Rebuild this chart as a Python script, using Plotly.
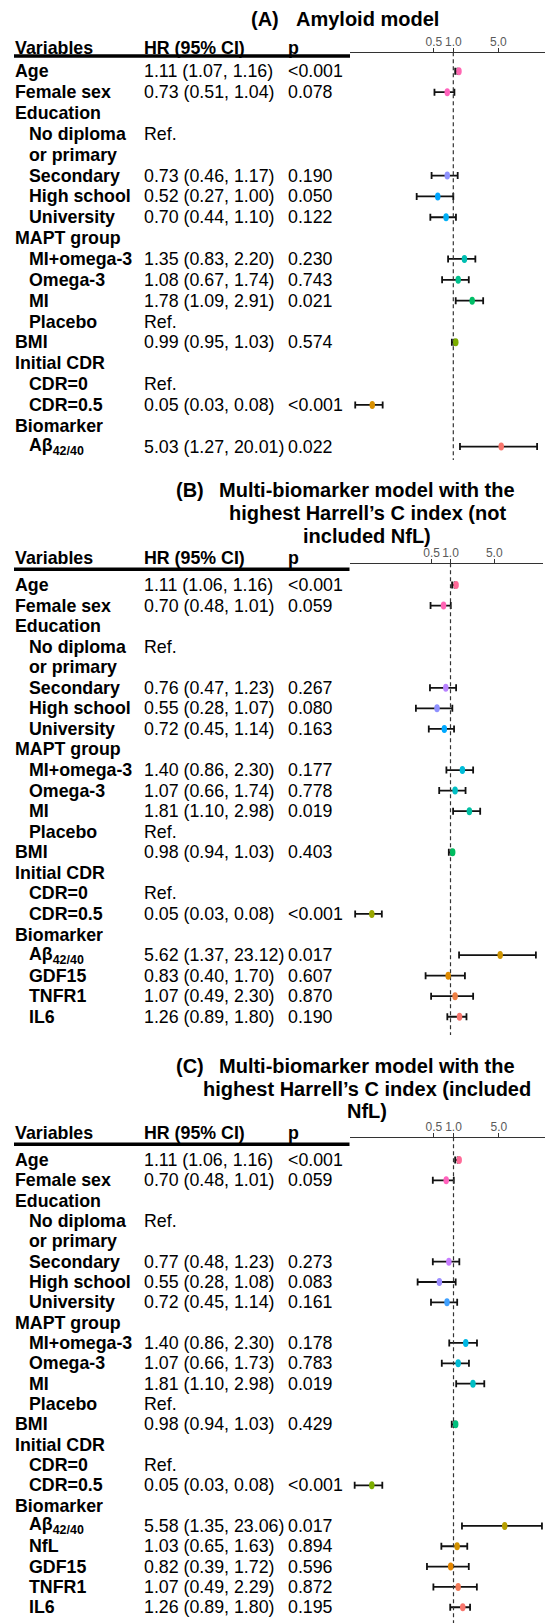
import plotly.graph_objects as go

W, H = 548, 1623

# ---------------- data ----------------
labels_A = ["Age", "Female sex", "Education", "No diploma", "or primary", "Secondary",
            "High school", "University", "MAPT group", "MI+omega-3", "Omega-3", "MI",
            "Placebo", "BMI", "Initial CDR", "CDR=0", "CDR=0.5", "Biomarker",
            "Aβ<sub>42/40</sub>"]
indent_A = [0, 0, 0, 1, 1, 1, 1, 1, 0, 1, 1, 1, 1, 0, 0, 1, 1, 0, 1]
ref_A = [0, 0, 0, 1, 0, 0, 0, 0, 0, 0, 0, 0, 1, 0, 0, 1, 0, 0, 0]
hr_A = [1.11, 0.73, None, None, None, 0.73, 0.52, 0.70, None, 1.35, 1.08, 1.78, None, 0.99, None, None, 0.05, None, 5.03]
lo_A = [1.07, 0.51, None, None, None, 0.46, 0.27, 0.44, None, 0.83, 0.67, 1.09, None, 0.95, None, None, 0.03, None, 1.27]
hi_A = [1.16, 1.04, None, None, None, 1.17, 1.00, 1.10, None, 2.20, 1.74, 2.91, None, 1.03, None, None, 0.08, None, 20.01]
p_A = ["<0.001", "0.078", "", "", "", "0.190", "0.050", "0.122", "", "0.230", "0.743", "0.021",
       "", "0.574", "", "", "<0.001", "", "0.022"]
col_A = ["#FF66B2", "#FF62BC", None, None, None, "#8F93FF", "#00A6FF", "#00B0F6", None, "#00BFB2",
         "#00C08D", "#00BE67", None, "#7CAE00", None, None, "#D89000", None, "#F8766D"]

labels_B = labels_A + ["GDF15", "TNFR1", "IL6"]
indent_B = indent_A + [1, 1, 1]
ref_B = ref_A + [0, 0, 0]
hr_B = [1.11, 0.70, None, None, None, 0.76, 0.55, 0.72, None, 1.40, 1.07, 1.81, None, 0.98, None, None, 0.05, None, 5.62, 0.83, 1.07, 1.26]
lo_B = [1.06, 0.48, None, None, None, 0.47, 0.28, 0.45, None, 0.86, 0.66, 1.10, None, 0.94, None, None, 0.03, None, 1.37, 0.40, 0.49, 0.89]
hi_B = [1.16, 1.01, None, None, None, 1.23, 1.07, 1.14, None, 2.30, 1.74, 2.98, None, 1.03, None, None, 0.08, None, 23.12, 1.70, 2.30, 1.80]
p_B = ["<0.001", "0.059", "", "", "", "0.267", "0.080", "0.163", "", "0.177", "0.778", "0.019",
       "", "0.403", "", "", "<0.001", "", "0.017", "0.607", "0.870", "0.190"]
col_B = ["#FF6A98", "#FF64B4", None, None, None, "#B983FF", "#8F91FF", "#00A9FF", None, "#00BCD8",
         "#00BFC4", "#00C0A3", None, "#00BD5F", None, None, "#9AA800", None, "#CF9400",
         "#E08B00", "#EE8044", "#F8766D"]

labels_C = labels_A + ["NfL", "GDF15", "TNFR1", "IL6"]
indent_C = indent_A + [1, 1, 1, 1]
ref_C = ref_A + [0, 0, 0, 0]
hr_C = [1.11, 0.70, None, None, None, 0.77, 0.55, 0.72, None, 1.40, 1.07, 1.81, None, 0.98, None, None, 0.05, None, 5.58, 1.03, 0.82, 1.07, 1.26]
lo_C = [1.06, 0.48, None, None, None, 0.48, 0.28, 0.45, None, 0.86, 0.66, 1.10, None, 0.94, None, None, 0.03, None, 1.35, 0.65, 0.39, 0.49, 0.89]
hi_C = [1.16, 1.01, None, None, None, 1.23, 1.08, 1.14, None, 2.30, 1.73, 2.98, None, 1.03, None, None, 0.08, None, 23.06, 1.63, 1.72, 2.29, 1.80]
p_C = ["<0.001", "0.059", "", "", "", "0.273", "0.083", "0.161", "", "0.178", "0.783", "0.019",
       "", "0.429", "", "", "<0.001", "", "0.017", "0.894", "0.596", "0.872", "0.195"]
col_C = ["#FF6A98", "#FF62BC", None, None, None, "#C77CFF", "#9C8DFF", "#3FA0FF", None, "#00B8E5",
         "#00BCD6", "#00BFC4", None, "#00BF7D", None, None, "#7CAE00", None, "#B79F00",
         "#D39200", "#E58700", "#F37B59", "#F8766D"]

tag_A, title_A = "(A)", ["Amyloid model"]
tag_B, title_B = "(B)", ["Multi-biomarker model with the", "highest Harrell’s C index (not", "included NfL)"]
tag_C, title_C = "(C)", ["Multi-biomarker model with the", "highest Harrell’s C index (included", "NfL)"]

tick_vals = [0.5, 1.0, 5.0]
tick_text = ["0.5", "1.0", "5.0"]

# ---------------- geometry (pixels) ----------------
panels = [
    dict(labels=labels_A, indent=indent_A, ref=ref_A, hr=hr_A, lo=lo_A, hi=hi_A, p=p_A, col=col_A,
         tag=tag_A, title=title_A, title_y=[19], tag_right=281,
         first=71.3, step=20.85, header=47.5, thick=56, axis=52.3, dash_end=460,
         dom=(0, 470), xdom=(350, 545), one=453.3, ppd=64.4),
    dict(labels=labels_B, indent=indent_B, ref=ref_B, hr=hr_B, lo=lo_B, hi=hi_B, p=p_B, col=col_B,
         tag=tag_B, title=title_B, title_y=[490, 513, 535.5], tag_right=206,
         first=585, step=20.56, header=558.3, thick=569.3, axis=563.3, dash_end=1035,
         dom=(470, 1050), xdom=(349.5, 543), one=450.5, ppd=62.6),
    dict(labels=labels_C, indent=indent_C, ref=ref_C, hr=hr_C, lo=lo_C, hi=hi_C, p=p_C, col=col_C,
         tag=tag_C, title=title_C, title_y=[1065.5, 1088.5, 1111], tag_right=206,
         first=1160, step=20.33, header=1133.3, thick=1144.3, axis=1137.3, dash_end=1623,
         dom=(1050, 1623), xdom=(349.5, 545), one=453.5, ppd=64.9),
]

X_VAR, X_IND, X_HR, X_P = 13, 27, 142, 286
TITLE_CX = 367
FONT = "Liberation Sans, Arial, sans-serif"
FS = 17.8


def px(x):
    return x / W


def py(y):
    return 1 - y / H


fig = go.Figure()
annotations, shapes = [], []
layout = {}

for k, P in enumerate(panels, start=1):
    xa, ya = f"x{k}", f"y{k}"
    first, step = P["first"], P["step"]
    top, bot = P["dom"]
    layout[f"yaxis{k}"] = dict(domain=[py(bot), py(top)],
                               range=[(bot - first) / step, (top - first) / step],
                               visible=False, fixedrange=True)
    x0p, x1p = P["xdom"]
    layout[f"xaxis{k}"] = dict(
        type="log", domain=[px(x0p), px(x1p)],
        range=[(x0p - P["one"]) / P["ppd"], (x1p - P["one"]) / P["ppd"]],
        side="top", anchor="free", position=py(P["axis"]),
        showline=True, linecolor="#333333", linewidth=1,
        ticks="outside", ticklen=4, tickcolor="#333333", tickwidth=1,
        tickvals=tick_vals, ticktext=tick_text, tickangle=0, ticklabelstandoff=-2,
        tickfont=dict(family=FONT, size=12, color="#5a5a5a"),
        showgrid=False, zeroline=False, fixedrange=True)

    # titles
    for i, (line, ty) in enumerate(zip(P["title"], P["title_y"])):
        annotations.append(dict(text=f"<b>{line}</b>", x=px(TITLE_CX), y=py(ty), xref="paper", yref="paper",
                                xanchor="center", yanchor="middle", showarrow=False,
                                font=dict(family=FONT, size=20, color="black")))
    annotations.append(dict(text=f"<b>{P['tag']}</b>", x=px(P["tag_right"]), y=py(P["title_y"][0]),
                            xref="paper", yref="paper", xanchor="right", yanchor="middle", showarrow=False,
                            font=dict(family=FONT, size=20, color="black")))
    # header
    hrow = (P["header"] - first) / step
    for txt, xx in [("Variables", X_VAR), ("HR (95% CI)", X_HR), ("p", X_P)]:
        annotations.append(dict(text=f"<b>{txt}</b>", x=px(xx), y=hrow, xref="paper", yref=ya,
                                xanchor="left", yanchor="middle", showarrow=False,
                                font=dict(family=FONT, size=FS, color="black")))
    shapes.append(dict(type="line", xref="paper", yref="paper", x0=px(14), x1=px(x0p),
                       y0=py(P["thick"]), y1=py(P["thick"]), line=dict(color="black", width=3.5)))
    # rows
    for r, lab in enumerate(P["labels"]):
        annotations.append(dict(text=f"<b>{lab}</b>", x=px(X_IND if P["indent"][r] else X_VAR), y=r,
                                xref="paper", yref=ya, xanchor="left", yanchor="middle", showarrow=False,
                                font=dict(family=FONT, size=FS, color="black")))
        h = P["hr"][r]
        if h is not None:
            hrtxt = f"{h:.2f} ({P['lo'][r]:.2f}, {P['hi'][r]:.2f})"
        elif P["ref"][r]:
            hrtxt = "Ref."
        else:
            hrtxt = ""
        if hrtxt:
            annotations.append(dict(text=hrtxt, x=px(X_HR), y=r, xref="paper", yref=ya,
                                    xanchor="left", yanchor="middle", showarrow=False,
                                    font=dict(family=FONT, size=FS, color="black")))
        if P["p"][r]:
            annotations.append(dict(text=P["p"][r].replace("<", "&lt;"), x=px(X_P), y=r, xref="paper", yref=ya,
                                    xanchor="left", yanchor="middle", showarrow=False,
                                    font=dict(family=FONT, size=FS, color="black")))

    # reference dashed line at HR = 1
    shapes.append(dict(type="line", xref=xa, yref="paper", x0=1, x1=1,
                       y0=py(P["axis"]), y1=py(P["dash_end"]),
                       line=dict(color="#333333", width=1.2, dash="4px,3px")))

    rows = [r for r, h in enumerate(P["hr"]) if h is not None]
    xs = [P["hr"][r] for r in rows]
    fig.add_trace(go.Scatter(
        x=xs, y=rows, xaxis=xa, yaxis=ya, mode="markers",
        marker=dict(size=2, color="rgba(0,0,0,0)"),
        error_x=dict(type="data", symmetric=False,
                     array=[P["hi"][r] - P["hr"][r] for r in rows],
                     arrayminus=[P["hr"][r] - P["lo"][r] for r in rows],
                     color="#111111", thickness=1.8, width=3.5),
        showlegend=False, hoverinfo="skip", cliponaxis=False))
    for r in rows:
        shapes.append(dict(type="circle", xref=xa, yref=ya, xsizemode="pixel", ysizemode="pixel",
                           xanchor=P["hr"][r], yanchor=r, x0=-5.5, x1=5.5, y0=-4, y1=4,
                           fillcolor=P["col"][r], line=dict(width=0), layer="above"))

fig.update_layout(width=W, height=H, margin=dict(l=0, r=0, t=0, b=0),
                  paper_bgcolor="white", plot_bgcolor="rgba(0,0,0,0)",
                  annotations=annotations, shapes=shapes, **layout)
fig.write_html("out.html")
